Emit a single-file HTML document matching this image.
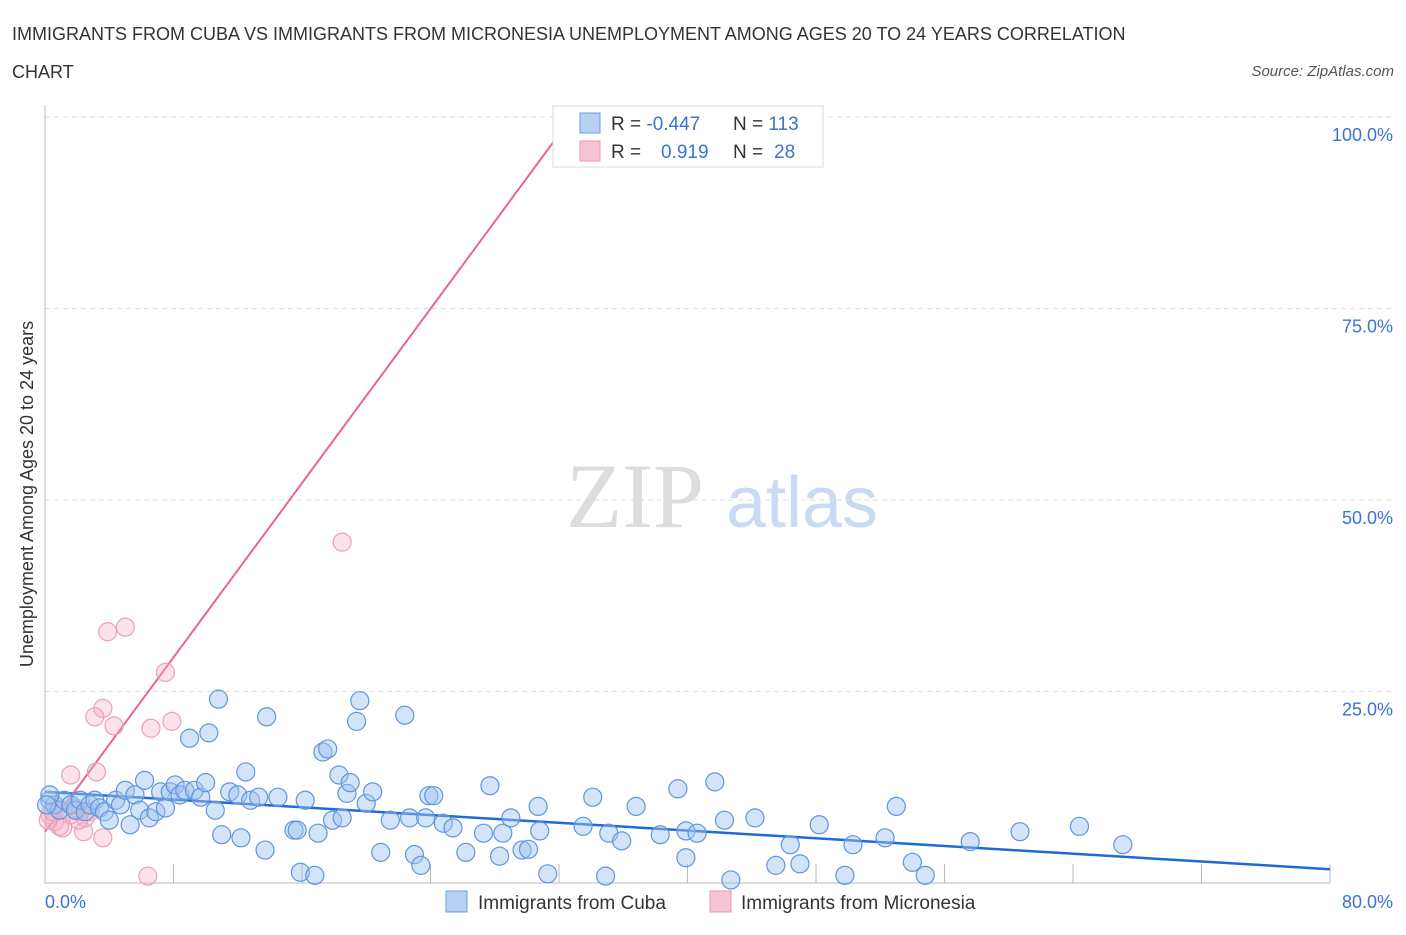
<!DOCTYPE html>
<html><head><meta charset="utf-8"><style>
body{margin:0;background:#fff;font-family:"Liberation Sans",sans-serif;}
</style></head><body>
<svg width="1406" height="930" viewBox="0 0 1406 930" xmlns="http://www.w3.org/2000/svg" id="chart" style="font-family:'Liberation Sans',sans-serif">
<text x="12" y="40" font-size="18" fill="#333">IMMIGRANTS FROM CUBA VS IMMIGRANTS FROM MICRONESIA UNEMPLOYMENT AMONG AGES 20 TO 24 YEARS CORRELATION</text>
<text x="12" y="78" font-size="18" fill="#333">CHART</text>
<text x="1394" y="76" font-size="15" fill="#555" font-style="italic" text-anchor="end">Source: ZipAtlas.com</text>
<text x="0" y="0" transform="translate(33,494) rotate(-90)" font-size="18" fill="#333" text-anchor="middle">Unemployment Among Ages 20 to 24 years</text>
<g>
<text x="635" y="527" font-size="92" fill="#ddd" font-family="Liberation Serif,serif" text-anchor="middle">ZIP</text>
<text x="802" y="527" font-size="72" fill="#c9daf2" text-anchor="middle">atlas</text>
</g>
<g id="grid"></g>
<g id="axes"></g>
<g id="lines"></g>
<g id="pts"></g>
<g>
<rect x="553" y="106" width="270" height="61" fill="#fff" stroke="#ddd"/>
<rect x="580" y="113" width="20" height="20" fill="#b8d0f3" stroke="#6a9de0"/>
<rect x="580" y="141" width="20" height="20" fill="#f7c4d4" stroke="#e899b3"/>
<text x="611" y="130" font-size="19" fill="#333">R = <tspan fill="#3b73d0">-0.447</tspan></text>
<text x="733" y="130" font-size="19" fill="#333">N = <tspan fill="#3b73d0">113</tspan></text>
<text x="611" y="158" font-size="19" fill="#333">R = <tspan fill="#3b73d0" x="661">0.919</tspan></text>
<text x="733" y="158" font-size="19" fill="#333">N = <tspan fill="#3b73d0" x="774">28</tspan></text>
</g>
<g>
<rect x="446" y="891" width="21" height="21" fill="#b8d0f3" stroke="#6a9de0"/>
<text x="478" y="909" font-size="19" fill="#333">Immigrants from Cuba</text>
<rect x="710" y="891" width="21" height="21" fill="#f7c4d4" stroke="#e899b3"/>
<text x="741" y="909" font-size="19" fill="#333">Immigrants from Micronesia</text>
</g>
</svg>
<script>
const cubaX=[0.3,0.6,0.9,1.2,1.6,1.9,2.2,2.5,2.8,3.1,3.4,3.7,4.0,4.4,4.7,5.0,5.3,5.6,5.9,6.2,6.5,6.9,7.2,7.5,7.8,8.1,8.4,8.7,9.0,9.3,9.7,10.0,10.2,10.6,10.8,11.0,11.5,12.0,12.2,12.5,12.8,13.3,13.7,13.8,14.5,15.9,16.2,15.5,15.7,16.8,17.0,17.3,17.6,17.9,18.3,18.5,18.8,19.0,19.4,19.6,20.0,20.4,20.9,21.5,22.4,22.7,23.0,23.4,23.7,23.9,24.2,24.8,25.4,26.2,27.3,27.7,28.3,28.5,29.0,29.7,30.1,30.7,30.8,31.3,33.5,34.1,34.9,35.1,35.9,36.8,38.3,39.4,39.9,39.9,40.6,41.7,42.3,42.7,44.2,45.5,46.4,47.0,48.2,49.8,50.3,52.3,53.0,54.0,54.8,57.6,60.7,64.4,67.1,0.3,0.1];
const cubaY=[10.8,10.2,9.5,10.8,10.2,9.5,10.8,9.3,10.2,10.8,9.8,9.3,8.2,10.8,10.2,12.1,7.6,11.5,9.5,13.4,8.5,9.3,11.9,9.8,11.9,12.8,11.5,12.1,18.9,12.1,11.2,13.1,19.6,9.5,24.0,6.3,11.9,11.5,5.9,14.5,10.8,11.2,4.3,21.7,11.2,1.4,10.8,6.9,6.9,1.0,6.5,17.1,17.5,8.2,14.1,8.5,11.7,13.1,21.1,23.8,10.4,11.9,4.0,8.2,21.9,8.5,3.7,2.3,8.5,11.4,11.4,7.8,7.2,4.0,6.5,12.7,3.5,6.5,8.5,4.3,4.4,10.0,6.8,1.2,7.4,11.2,0.9,6.5,5.5,10.0,6.3,12.3,3.3,6.8,6.5,13.2,8.2,0.4,8.5,2.3,5.0,2.5,7.6,1.0,5.0,5.9,10.0,2.7,1.0,5.4,6.7,7.4,5.0,11.5,10.2];
const micX=[32.2,18.5,3.9,5.0,7.5,3.6,3.1,4.3,7.9,6.6,1.6,3.2,0.3,0.6,0.9,1.2,1.6,1.9,2.2,2.5,1.1,2.4,3.6,6.4,0.2,0.5,2.8,2.1];
const micY=[100,44.5,32.8,33.4,27.5,22.8,21.7,20.5,21.1,20.2,14.1,14.5,8.9,8.0,7.4,9.5,8.9,9.8,9.3,8.5,7.2,6.7,5.9,0.9,8.2,9.3,9.3,8.2];
const cubaTrendX=[0,80], cubaTrendY=[11.9,1.8];
const micTrendX=[0,32.8], micTrendY=[6.7,100];
const yTicks=[25,50,75,100];
const yTickLabels=["25.0%","50.0%","75.0%","100.0%"];
const xTickVals=[0,8,16,24,32,40,48,56,64,72,80];

const NS="http://www.w3.org/2000/svg";
const sx=v=>45+v/80*1285;
const sy=v=>883-v*7.66;
function mk(tag,attrs,parent){const e=document.createElementNS(NS,tag);for(const k in attrs)e.setAttribute(k,attrs[k]);document.getElementById(parent).appendChild(e);return e;}
yTicks.forEach((t,i)=>{
  const g=mk('line',{x1:45,x2:1393,y1:sy(t),y2:sy(t),stroke:'#ddd','stroke-dasharray':'5,4'},'grid');
  
  
  const l=mk('text',{x:1393,y:sy(t)+24,'font-size':18,fill:'#3b73d0','text-anchor':'end'},'axes');
  l.textContent=yTickLabels[i];
  
  
});
const ax=mk('line',{x1:45,x2:1330,y1:883,y2:883,stroke:'#bbb'},'axes');


const ay=mk('line',{x1:45,x2:45,y1:105,y2:883,stroke:'#bbb'},'axes');


xTickVals.forEach(t=>{
  const k=mk('line',{x1:sx(t),x2:sx(t),y1:864,y2:883,stroke:'#bbb'},'axes');
  
  
});
const x0=mk('text',{x:45,y:908,'font-size':18,fill:'#3b73d0'},'axes');x0.textContent=xTickVals[0].toFixed(1)+'%';


const x1=mk('text',{x:1393,y:908,'font-size':18,fill:'#3b73d0','text-anchor':'end'},'axes');x1.textContent=xTickVals[xTickVals.length-1].toFixed(1)+'%';


micX.forEach((x,i)=>{
  const c=mk('circle',{cx:sx(x),cy:sy(micY[i]),r:9,fill:'rgba(245,175,198,0.35)',stroke:'#eaa0ba','stroke-width':1.2},'pts');
  
  
});
cubaX.forEach((x,i)=>{
  const c=mk('circle',{cx:sx(x),cy:sy(cubaY[i]),r:9,fill:'rgba(160,195,240,0.45)',stroke:'#5f95dd','stroke-width':1.2},'pts');
  
  
});
const tb=mk('line',{x1:sx(cubaTrendX[0]),y1:sy(cubaTrendY[0]),x2:sx(cubaTrendX[1]),y2:sy(cubaTrendY[1]),stroke:'#1f6ad6','stroke-width':2.5},'lines');


const tp=mk('line',{x1:sx(micTrendX[0]),y1:sy(micTrendY[0]),x2:sx(micTrendX[1]),y2:sy(micTrendY[1]),stroke:'#e8658f','stroke-width':2},'lines');


</script>
</body></html>
